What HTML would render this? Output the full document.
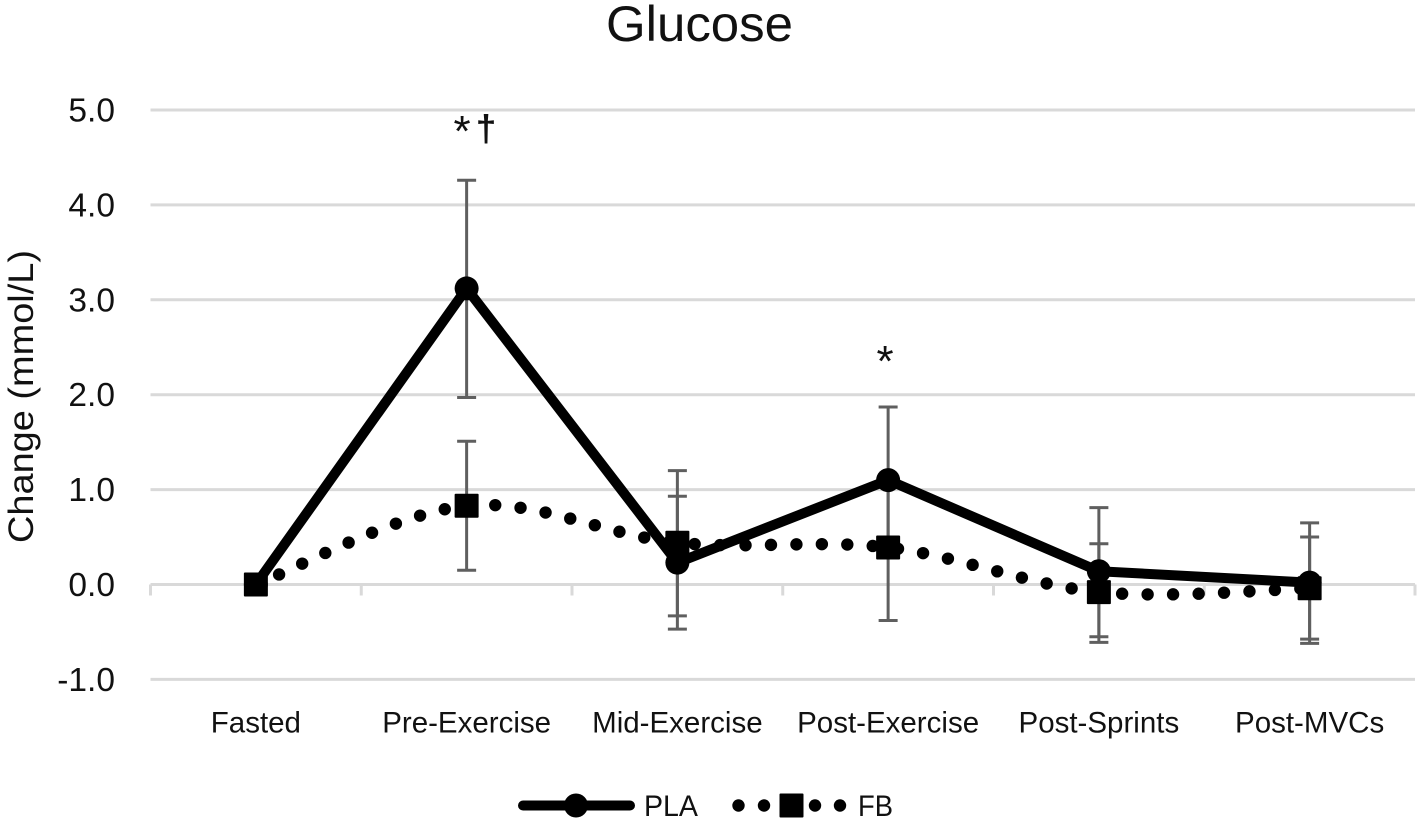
<!DOCTYPE html>
<html lang="en">
<head>
<meta charset="utf-8">
<title>Glucose</title>
<style>
html,body{margin:0;padding:0;background:#fff;width:1418px;height:819px;overflow:hidden}
svg{display:block}
text{font-family:"Liberation Sans",sans-serif;fill:#111}
</style>
</head>
<body>
<svg id="chart" xmlns="http://www.w3.org/2000/svg" width="1418" height="819" viewBox="0 0 1418 819">
  <text x="699.5" y="41" font-size="50" text-anchor="middle" textLength="187" lengthAdjust="spacingAndGlyphs">Glucose</text>
  <text transform="translate(33,543) rotate(-90)" font-size="35" textLength="293" lengthAdjust="spacingAndGlyphs">Change (mmol/L)</text>
  <g id="grid"></g>
  <g id="ylabels"></g>
  <g id="xaxis"></g>
  <g id="errors"></g>
  <g id="series"></g>
  <text text-anchor="middle"><tspan x="462" y="146" font-size="44">*</tspan><tspan x="486" y="141" font-size="37" font-weight="bold">†</tspan></text>
  <text x="885" y="376" font-size="44" text-anchor="middle">*</text>
  <g>
    <g>
      <line x1="523" y1="805.5" x2="630" y2="805.5" stroke="#000" stroke-width="10" stroke-linecap="round"/>
      <circle cx="576" cy="805.5" r="12" fill="#000"/>
      <text x="644" y="816" font-size="30" textLength="54" lengthAdjust="spacingAndGlyphs">PLA</text>
    </g>
    <g>
      <circle cx="738.5" cy="805.5" r="6.2" fill="#000"/>
      <circle cx="764" cy="805.5" r="6.2" fill="#000"/>
      <rect x="779.5" y="793.5" width="24" height="24" rx="1" fill="#000"/>
      <circle cx="815" cy="805.5" r="6.2" fill="#000"/>
      <circle cx="840" cy="805.5" r="6.2" fill="#000"/>
      <text x="858" y="816" font-size="30" textLength="35" lengthAdjust="spacingAndGlyphs">FB</text>
    </g>
  </g>
</svg>
<script>
const categories = ["Fasted", "Pre-Exercise", "Mid-Exercise", "Post-Exercise", "Post-Sprints", "Post-MVCs"];
const yTicks = [5, 4, 3, 2, 1, 0, -1];
const yTickLabels = ["5.0", "4.0", "3.0", "2.0", "1.0", "0.0", "-1.0"];
const plaValues = [0, 3.12, 0.23, 1.10, 0.14, 0.02];
const plaErrorUpper = [0, 4.26, 0.93, 1.87, 0.81, 0.65];
const plaErrorLower = [0, 1.97, -0.47, 0.33, -0.55, -0.62];
const fbValues = [0, 0.83, 0.44, 0.39, -0.08, -0.04];
const fbErrorUpper = [0, 1.51, 1.20, 1.14, 0.43, 0.50];
const fbErrorLower = [0, 0.15, -0.33, -0.38, -0.61, -0.575];

const NS = "http://www.w3.org/2000/svg";
const left = 150.5, right = 1415, y0 = 584.5, unit = 94.9;
const band = (right - left) / categories.length;
const xScale = function (i) { return left + band * (i + 0.5); };
const yScale = function (v) { return y0 - v * unit; };

function make(parent, tag, attrs) {
  const el = document.createElementNS(NS, tag);
  for (const k in attrs) el.setAttribute(k, attrs[k]);
  parent.appendChild(el);
  return el;
}

const grid = document.getElementById("grid");
const ylabels = document.getElementById("ylabels");
yTicks.forEach(function (t, i) {
  const line = make(grid, "line", {x1: left, x2: right, y1: yScale(t), y2: yScale(t), stroke: "#d9d9d9", "stroke-width": 3});
  
  
  const label = make(ylabels, "text", {x: 115, y: yScale(t) + 11.5, "font-size": 33.5, "text-anchor": "end"});
  
  
  label.textContent = yTickLabels[i];
});

const xaxis = document.getElementById("xaxis");
for (let i = 0; i <= categories.length; i++) {
  const tick = make(xaxis, "line", {x1: left + band * i, x2: left + band * i, y1: y0, y2: y0 + 11, stroke: "#d9d9d9", "stroke-width": 3});
  
  
}
categories.forEach(function (c, i) {
  const label = make(xaxis, "text", {x: xScale(i), y: 732.5, "font-size": 29.5, "text-anchor": "middle"});
  
  
  label.textContent = c;
});

const errors = document.getElementById("errors");
function drawErrors(upper, lower) {
  categories.forEach(function (c, i) {
    if (upper[i] === lower[i]) return;
    const x = xScale(i);
    const stem = make(errors, "line", {x1: x, x2: x, y1: yScale(upper[i]), y2: yScale(lower[i]), stroke: "#5f5f5f", "stroke-width": 3});
    
    
    const capTop = make(errors, "line", {x1: x - 9.5, x2: x + 9.5, y1: yScale(upper[i]), y2: yScale(upper[i]), stroke: "#5f5f5f", "stroke-width": 3});
    
    
    const capBottom = make(errors, "line", {x1: x - 9.5, x2: x + 9.5, y1: yScale(lower[i]), y2: yScale(lower[i]), stroke: "#5f5f5f", "stroke-width": 3});
    
    
  });
}
drawErrors(plaErrorUpper, plaErrorLower);
drawErrors(fbErrorUpper, fbErrorLower);

const series = document.getElementById("series");

function smoothPath(values) {
  const pts = values.map(function (v, i) { return [xScale(i), yScale(v)]; });
  let d = "M" + pts[0][0] + " " + pts[0][1];
  for (let i = 0; i < pts.length - 1; i++) {
    const p0 = pts[Math.max(i - 1, 0)], p1 = pts[i], p2 = pts[i + 1], p3 = pts[Math.min(i + 2, pts.length - 1)];
    const c1x = p1[0] + (p2[0] - p0[0]) / 6, c1y = p1[1] + (p2[1] - p0[1]) / 6;
    const c2x = p2[0] - (p3[0] - p1[0]) / 6, c2y = p2[1] - (p3[1] - p1[1]) / 6;
    d += " C" + c1x + " " + c1y + " " + c2x + " " + c2y + " " + p2[0] + " " + p2[1];
  }
  return d;
}

const fbLine = make(series, "path", {d: smoothPath(fbValues), fill: "none", stroke: "#000", "stroke-width": 12.4, "stroke-linecap": "round", "stroke-dasharray": "0 25.45"});


fbValues.forEach(function (v, i) {
  const m = make(series, "rect", {x: xScale(i) - 12, y: yScale(v) - 12, width: 24, height: 24, rx: 1, fill: "#000"});
  
  
});

const plaLine = make(series, "polyline", {
  points: plaValues.map(function (v, i) { return xScale(i) + "," + yScale(v); }).join(" "),
  fill: "none", stroke: "#000", "stroke-width": 10, "stroke-linejoin": "round"
});


plaValues.forEach(function (v, i) {
  const m = make(series, "circle", {cx: xScale(i), cy: yScale(v), r: 12, fill: "#000"});
  
  
});
</script>
</body>
</html>
